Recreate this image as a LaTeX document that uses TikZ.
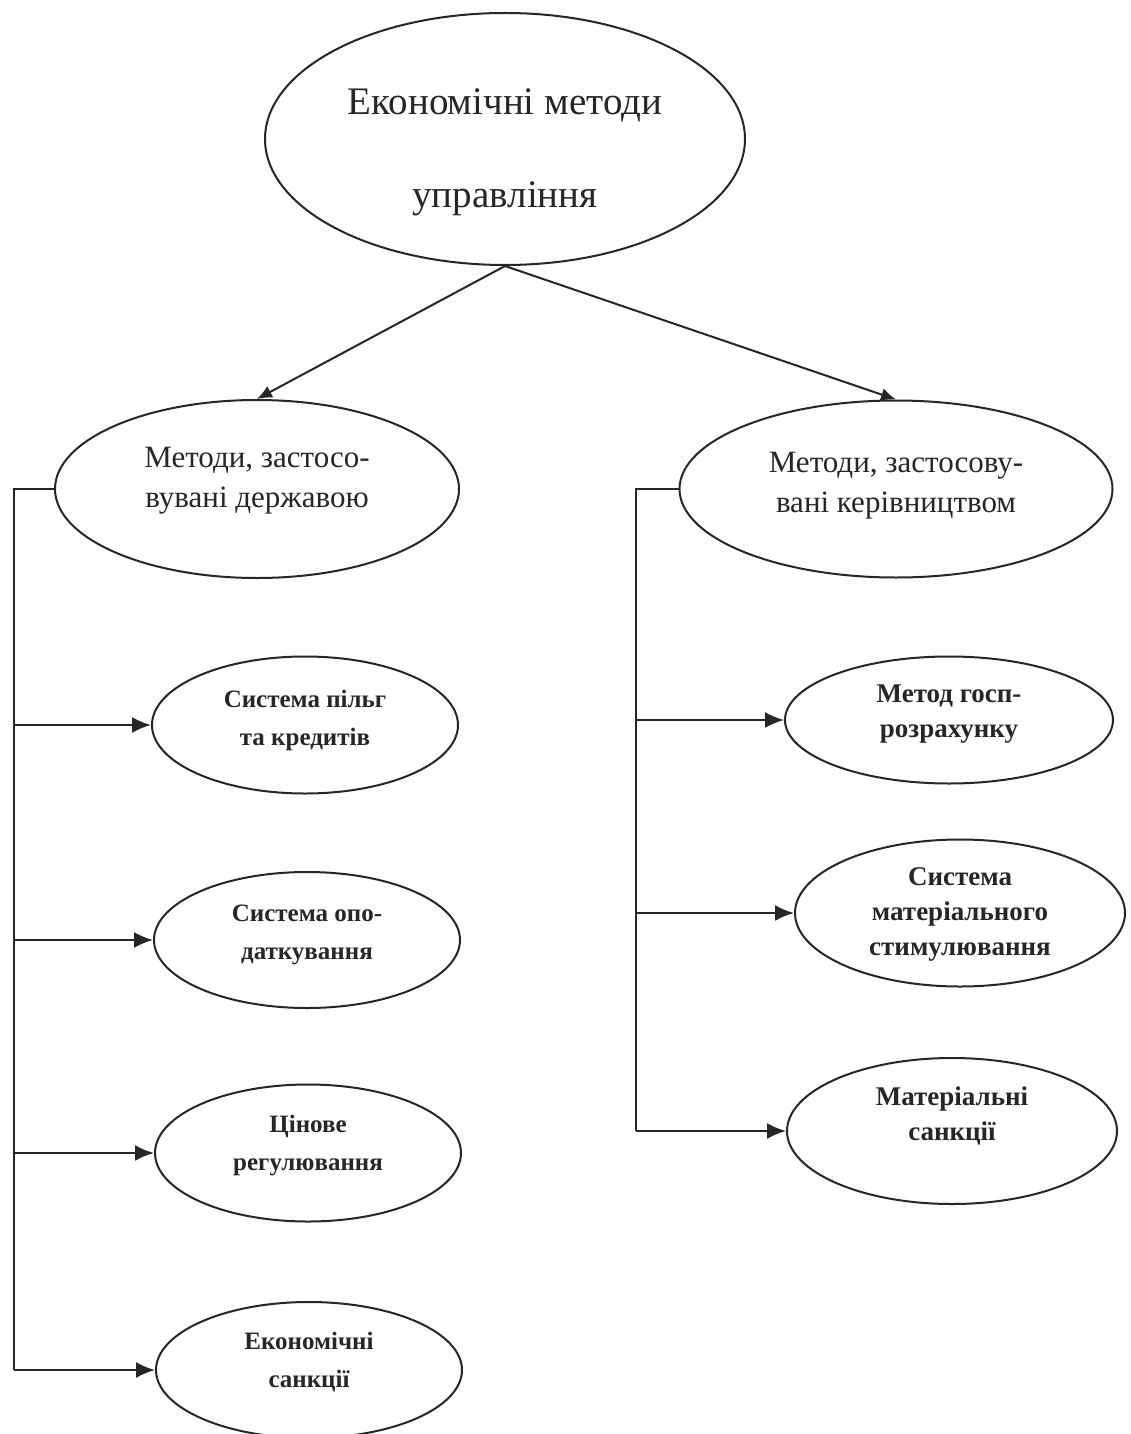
\documentclass[tikz,border=0pt]{standalone}
\usepackage{fontspec}
\setmainfont{Liberation Serif}
\usetikzlibrary{shapes.geometric,arrows.meta}
\definecolor{ink}{HTML}{262626}
\newcommand{\mylines}[2]{\raisebox{#1}[0pt][0pt]{\begin{tabular}{@{}c@{}}#2\end{tabular}}}
\begin{document}
\begin{tikzpicture}[x=1pt,y=-1pt,
  every node/.style={text=ink},
  oval/.style={ellipse,draw=ink,line width=2pt,inner sep=0pt,fill=white},
  topfont/.style={font=\fontsize{39}{93}\selectfont},
  midfont/.style={font=\fontsize{31}{40}\selectfont},
  leaffont/.style={font=\bfseries\fontsize{25}{38}\selectfont},
  rleaffont/.style={font=\bfseries\fontsize{27}{35}\selectfont},
  link/.style={draw=ink,line width=2pt},
  arr/.style={link,-{Latex[length=15pt,width=13pt]}},
  arrb/.style={link,-{Latex[length=19pt,width=16pt]}}
]
\useasboundingbox[fill=white] (0,0) rectangle (1131,1434);

\node[oval,topfont,minimum width=480pt,minimum height=252pt] (top) at (505,139)
  {\mylines{-10pt}{Економічні методи\\управління}};

\node[oval,midfont,minimum width=404pt,minimum height=178pt] (L) at (257,489)
  {\mylines{3pt}{Методи, застосо-\\вувані державою}};
\node[oval,midfont,minimum width=433pt,minimum height=177pt] (R) at (896,489)
  {\mylines{-2pt}{Методи, застосову-\\вані керівництвом}};

\node[oval,leaffont,minimum width=306pt,minimum height=137pt] (l1) at (305,725)
  {\mylines{0pt}{Система пільг\\та кредитів}};
\node[oval,leaffont,minimum width=306pt,minimum height=136pt] (l2) at (307,940)
  {\mylines{1pt}{Система опо-\\даткування}};
\node[oval,leaffont,minimum width=306pt,minimum height=137pt] (l3) at (308,1153)
  {\mylines{3pt}{Цінове\\регулювання}};
\node[oval,leaffont,minimum width=306pt,minimum height=136pt] (l4) at (309,1370)
  {\mylines{3pt}{Економічні\\санкції}};

\node[oval,rleaffont,minimum width=328pt,minimum height=127pt] (r1) at (949,720)
  {\mylines{1pt}{Метод госп-\\розрахунку}};
\node[oval,rleaffont,minimum width=330pt,minimum height=147pt] (r2) at (960,913)
  {\mylines{-7pt}{Система\\матеріального\\стимулювання}};
\node[oval,rleaffont,minimum width=330pt,minimum height=146pt] (r3) at (952,1131)
  {\mylines{9pt}{Матеріальні\\санкції}};

\draw[arr] (top.south) -- (L.north);
\draw[arr] (top.south) -- (R.north);

\coordinate (lb) at (14,489);
\coordinate (rb) at (636,489);
\draw[link] (L.west) -- (lb) -- (lb |- l4.west);
\draw[link] (R.west) -- (rb) -- (rb |- r3.west);
\foreach \n in {l1,l2,l3,l4} \draw[arrb] (lb |- \n.west) -- (\n.west);
\foreach \n in {r1,r2,r3} \draw[arrb] (rb |- \n.west) -- (\n.west);
\end{tikzpicture}
\end{document}
